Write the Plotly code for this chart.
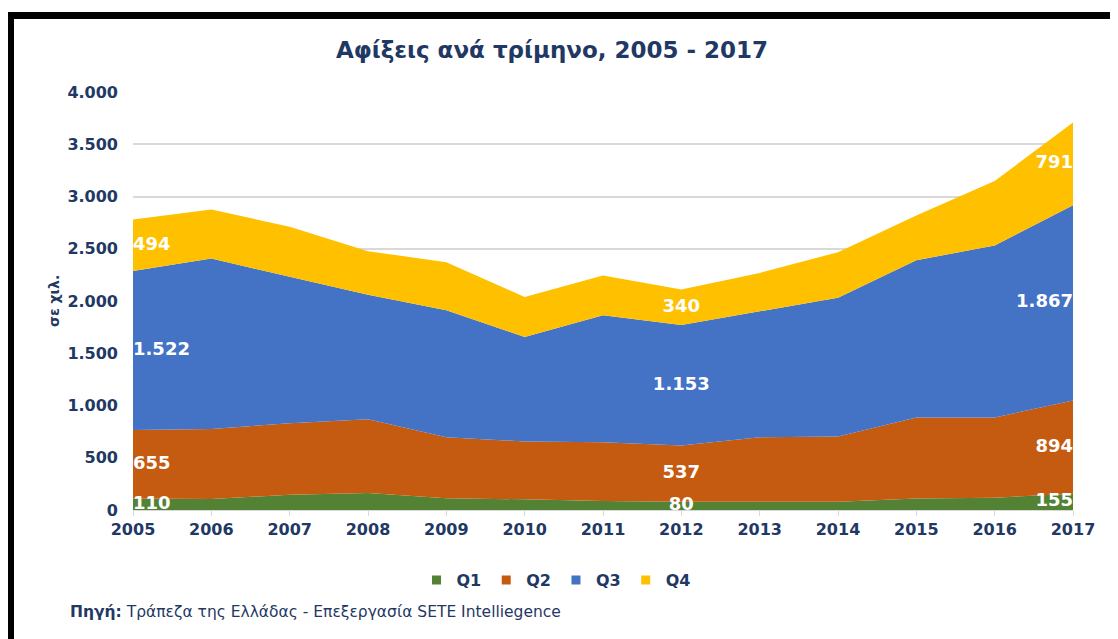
import plotly.graph_objects as go

years = list(range(2005, 2018))
q1 = [110, 105, 147, 163, 112, 102, 86, 80, 80, 80, 109, 118, 155]
q2 = [655, 671, 684, 706, 585, 553, 563, 537, 617, 623, 776, 767, 894]
q3 = [1522, 1630, 1400, 1192, 1214, 1001, 1214, 1153, 1204, 1327, 1505, 1646, 1867]
q4 = [494, 470, 479, 416, 460, 383, 380, 340, 368, 437, 428, 617, 791]
series_names = ["Q1", "Q2", "Q3", "Q4"]
series_vals = [q1, q2, q3, q4]
colors = ["#548235", "#C55A11", "#4472C4", "#FFC000"]
label_years = [2005, 2012, 2017]

NAVY = "#1F3864"
FONT = "DejaVu Sans"

# page body has an 8px margin: figure is 1110x631 placed at (8, 8)
W, H = 1110, 631
OFF = 8
L, R, T, B = 133 - OFF, 1118 - 1073, 92 - OFF, (OFF + H) - 510
PW, PH = 1073 - 133, 510 - 92


def px_x(px):
    return (px - 133) / PW


def px_y(py):
    return (510 - py) / PH


def fmt(v):
    return f"{v:,}".replace(",", ".")


fig = go.Figure()

# stacked areas
for name, vals, col in zip(series_names, series_vals, colors):
    fig.add_trace(go.Scatter(
        x=years, y=vals, name=name, stackgroup="one", mode="none",
        fillcolor=col, line=dict(width=0), showlegend=False, hoverinfo="x+y+name"))

# data labels at band centers
cum = [0] * len(years)
positions = {2005: "middle right", 2012: "middle center", 2017: "middle left"}
for name, vals in zip(series_names, series_vals):
    xs, ys, ts, ps = [], [], [], []
    for i, yr in enumerate(years):
        if yr in label_years:
            xs.append(yr)
            ys.append(cum[i] + vals[i] / 2)
            ts.append(fmt(vals[i]))
            ps.append(positions[yr])
    cum = [c + v for c, v in zip(cum, vals)]
    fig.add_trace(go.Scatter(
        x=xs, y=ys, text=ts, mode="text", textposition=ps,
        textfont=dict(family=FONT, size=18, color="white", weight="bold"),
        showlegend=False, cliponaxis=False, hoverinfo="skip"))

# legend entries
for name, col in zip(series_names, colors):
    fig.add_trace(go.Scatter(
        x=[None], y=[None], mode="markers", name=name,
        marker=dict(symbol="square", size=9, color=col), showlegend=True))

fig.update_layout(
    width=W, height=H,
    margin=dict(l=L, r=R, t=T, b=B),
    paper_bgcolor="white", plot_bgcolor="white",
    separators=",.",
    title=dict(text="<b>Αφίξεις ανά τρίμηνο, 2005 - 2017</b>",
               x=(552 - OFF) / W, xanchor="center", y=1 - (50 - OFF) / H, yanchor="middle",
               font=dict(family=FONT, size=23, color=NAVY)),
    xaxis=dict(range=[2005, 2017], tickvals=years, ticktext=[str(y) for y in years],
               showgrid=False, zeroline=False, showline=True, linecolor="#D9D9D9",
               linewidth=1, ticks="outside", ticklen=5, tickcolor="#D9D9D9",
               tickfont=dict(family=FONT, size=16, color=NAVY, weight="bold")),
    yaxis=dict(range=[0, 4000], dtick=500, tickformat=",d", showgrid=True,
               gridcolor="#D9D9D9", gridwidth=1.5, zeroline=False, showline=False,
               ticks="", ticklabelstandoff=14,
               tickfont=dict(family=FONT, size=16, color=NAVY, weight="bold")),
    legend=dict(orientation="h", x=px_x(556), xanchor="center", y=px_y(580), yanchor="middle",
                font=dict(family=FONT, size=16, color=NAVY, weight="bold"),
                itemwidth=30, traceorder="normal", tracegroupgap=0,
                bgcolor="rgba(0,0,0,0)"),
    showlegend=True,
)

fig.add_annotation(text="<b>σε χιλ.</b>", textangle=-90, xref="paper", yref="paper",
                   x=px_x(54), y=0.5, xanchor="center", yanchor="middle",
                   showarrow=False, font=dict(family=FONT, size=14, color=NAVY))

fig.add_annotation(text="<b>Πηγή:</b> Τράπεζα της Ελλάδας - Επεξεργασία SETE Intelliegence",
                   xref="paper", yref="paper", x=px_x(68), y=px_y(612),
                   xanchor="left", yanchor="middle", showarrow=False,
                   font=dict(family=FONT, size=15.5, color=NAVY))

# outer black frame
fig.add_shape(type="rect", xref="paper", yref="paper",
              x0=px_x(10.5), x1=px_x(1140),
              y0=px_y(660), y1=px_y(15.5),
              line=dict(color="black", width=7), fillcolor="rgba(0,0,0,0)", layer="above")

fig.write_html("out.html")
